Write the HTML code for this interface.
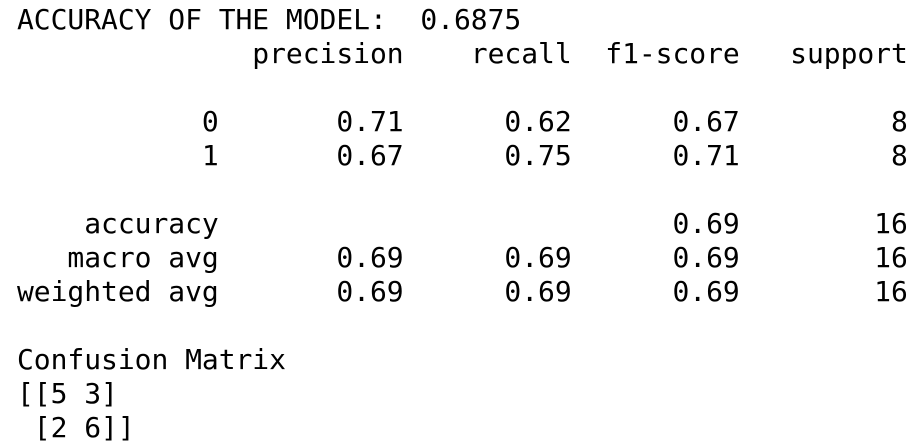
<!DOCTYPE html>
<html><head><meta charset="utf-8"><style>
html,body{margin:0;padding:0;background:#fff;width:924px;height:440px;overflow:hidden}
pre{position:absolute;left:17px;top:3px;margin:0;font-family:"DejaVu Sans Mono","Liberation Mono",monospace;font-size:28px;letter-spacing:-0.05px;line-height:34px;color:#000}
</style></head><body>
<pre>ACCURACY OF THE MODEL:  0.6875
              precision    recall  f1-score   support

           0       0.71      0.62      0.67         8
           1       0.67      0.75      0.71         8

    accuracy                           0.69        16
   macro avg       0.69      0.69      0.69        16
weighted avg       0.69      0.69      0.69        16

Confusion Matrix
[[5 3]
 [2 6]]</pre>
</body></html>
